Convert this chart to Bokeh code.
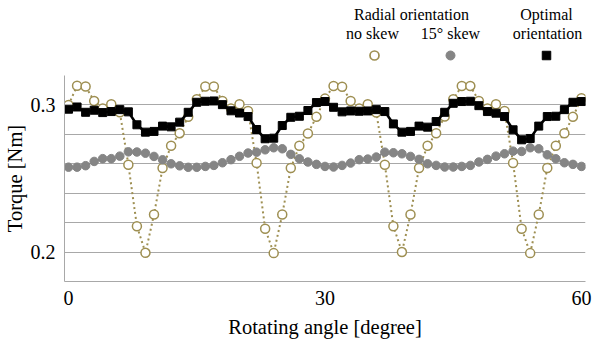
from bokeh.plotting import figure
from bokeh.layouts import column
from bokeh.models import Range1d, FixedTicker, ColumnDataSource
from bokeh.core.properties import value
from bokeh.embed import file_html
from bokeh.resources import INLINE

# ---- data ----
angle = list(range(61))  # rotating angle [degree], 1-degree steps

radial_no_skew = [
    0.3000, 0.3130, 0.3125, 0.3027, 0.2975, 0.3005, 0.2950, 0.2594, 0.2176, 0.1995, 0.2255, 0.2571, 0.2722, 0.2808, 0.2919,
    0.3038, 0.3125, 0.3125, 0.3027, 0.2975, 0.3005, 0.2959, 0.2605, 0.2158, 0.1993, 0.2255, 0.2571, 0.2722, 0.2806, 0.2919,
    0.3043, 0.3129, 0.3124, 0.3027, 0.2975, 0.3005, 0.2948, 0.2594, 0.2176, 0.2000, 0.2255, 0.2571, 0.2722, 0.2808, 0.2921,
    0.3038, 0.3129, 0.3129, 0.3027, 0.2975, 0.3005, 0.2959, 0.2605, 0.2158, 0.1993, 0.2255, 0.2571, 0.2722, 0.2808, 0.2919,
    0.3045,
]

radial_15_skew = [
    0.2577, 0.2577, 0.2587, 0.2616, 0.2635, 0.2635, 0.2652, 0.2681, 0.2680, 0.2672, 0.2650, 0.2627, 0.2600, 0.2586, 0.2576,
    0.2576, 0.2582, 0.2589, 0.2607, 0.2628, 0.2651, 0.2673, 0.2679, 0.2695, 0.2709, 0.2702, 0.2664, 0.2634, 0.2612, 0.2596,
    0.2582, 0.2578, 0.2589, 0.2605, 0.2628, 0.2632, 0.2646, 0.2679, 0.2675, 0.2668, 0.2650, 0.2630, 0.2600, 0.2589, 0.2578,
    0.2578, 0.2582, 0.2589, 0.2612, 0.2630, 0.2652, 0.2668, 0.2686, 0.2684, 0.2709, 0.2702, 0.2661, 0.2634, 0.2607, 0.2596,
    0.2582,
]

optimal = [
    0.2971, 0.2986, 0.2950, 0.2964, 0.2948, 0.2955, 0.2968, 0.2953, 0.2865, 0.2815, 0.2820, 0.2856, 0.2851, 0.2883, 0.2950,
    0.3018, 0.3025, 0.3027, 0.3002, 0.2960, 0.2945, 0.2921, 0.2833, 0.2770, 0.2774, 0.2860, 0.2916, 0.2923, 0.2962, 0.3016,
    0.3023, 0.2984, 0.2953, 0.2959, 0.2957, 0.2959, 0.2968, 0.2955, 0.2871, 0.2815, 0.2820, 0.2856, 0.2849, 0.2887, 0.2950,
    0.3011, 0.3023, 0.3025, 0.2995, 0.2955, 0.2944, 0.2921, 0.2831, 0.2763, 0.2772, 0.2856, 0.2921, 0.2923, 0.2968, 0.3018,
    0.3023,
]

x_ticks = [0, 30, 60]
y_label_ticks = [0.2, 0.3]
y_grid_ticks = [0.18, 0.20, 0.22, 0.24, 0.26, 0.28, 0.30, 0.32]

legend_texts = ["Radial orientation", "no skew", "15\u00b0 skew", "Optimal", "orientation"]

OLIVE = "#9E8F52"
GRAY = "#858585"
GRID = "#A8A8A8"
FONT = "Liberation Serif"

W, H = 592, 344
LEFT, RIGHT = 64, 7

# ---------------- legend strip (pixel coordinates, frame aligned with chart) ----------------
LH = 70
lf = figure(width=W, height=LH, output_backend="svg", toolbar_location=None,
            x_axis_type=None, y_axis_type=None,
            x_range=Range1d(LEFT, W - RIGHT), y_range=Range1d(LH, 0),
            min_border_left=0, min_border_right=0, min_border_top=0, min_border_bottom=0)
lf.grid.visible = False
lf.outline_line_color = None
lf.border_fill_color = "white"
lf.background_fill_color = "white"
lf.text(x=[411, 372, 450, 546, 547], y=[14, 33, 33, 14, 33], text=legend_texts,
        text_font=value(FONT), text_font_size="16px", text_color="black",
        text_align="center", text_baseline="middle")
lf.scatter(x=[374], y=[55], marker="circle", size=9, fill_color="white", line_color=OLIVE, line_width=1.7)
lf.scatter(x=[450], y=[55], marker="circle", size=9, fill_color=GRAY, line_color=GRAY)
lf.scatter(x=[546], y=[55], marker="square", size=8.5, fill_color="black", line_color="black")

# ---------------- main chart ----------------
src = ColumnDataSource(dict(x=angle, ns=radial_no_skew, sk=radial_15_skew, op=optimal))

p = figure(width=W, height=H - LH, output_backend="svg", toolbar_location=None,
           x_range=Range1d(-0.47, 60.47), y_range=Range1d(0.18, 0.32),
           min_border_left=LEFT, min_border_right=RIGHT, min_border_top=5, min_border_bottom=63)
p.outline_line_color = None
p.background_fill_color = "white"
p.border_fill_color = "white"

p.xgrid.visible = False
p.ygrid.ticker = FixedTicker(ticks=y_grid_ticks)
p.ygrid.grid_line_color = GRID
p.ygrid.grid_line_width = 1

for ax in (p.xaxis[0], p.yaxis[0]):
    ax.major_tick_line_color = None
    ax.minor_tick_line_color = None
    ax.major_tick_out = 0
    ax.major_tick_in = 0
    ax.axis_line_color = GRID
    ax.axis_line_width = 1
    ax.major_label_text_font = FONT
    ax.major_label_text_font_size = "20px"
    ax.major_label_text_color = "black"
    ax.axis_label_text_font = FONT
    ax.axis_label_text_font_size = "20.5px"
    ax.axis_label_text_font_style = "normal"
    ax.axis_label_text_color = "black"

p.xaxis.ticker = FixedTicker(ticks=x_ticks)
p.yaxis.ticker = FixedTicker(ticks=y_label_ticks)
p.xaxis.axis_label = "Rotating angle [degree]"
p.yaxis.axis_label = "Torque [Nm]"
p.xaxis.major_label_standoff = 9
p.xaxis.axis_label_standoff = 8
p.yaxis.major_label_standoff = 9
p.yaxis.axis_label_standoff = 2

p.line("x", "ns", source=src, line_color=OLIVE, line_width=2, line_dash="2 3")
p.scatter("x", "ns", source=src, marker="circle", size=9, fill_color="white",
          line_color=OLIVE, line_width=1.5)
p.line("x", "sk", source=src, line_color=GRAY, line_width=2, line_dash="2 3")
p.scatter("x", "sk", source=src, marker="circle", size=8.5, fill_color=GRAY, line_color=GRAY)
p.line("x", "op", source=src, line_color="black", line_width=2.6)
p.scatter("x", "op", source=src, marker="square", size=8, fill_color="black", line_color="black")

layout = column(lf, p, spacing=0)
open("out.html", "w").write(file_html(layout, INLINE))
